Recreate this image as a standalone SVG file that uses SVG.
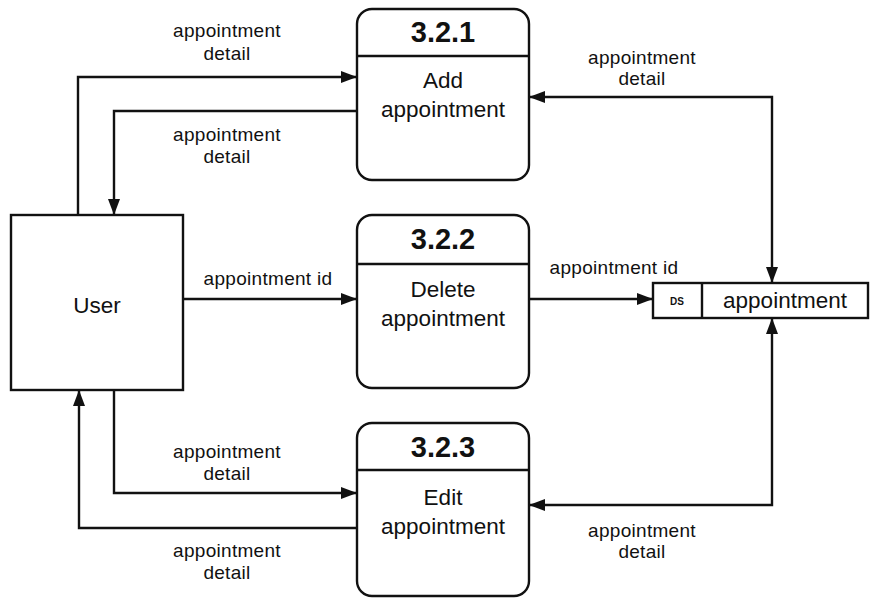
<svg xmlns="http://www.w3.org/2000/svg" width="871" height="599" viewBox="0 0 871 599">
<style>
.box{fill:#fff;stroke:#111;stroke-width:2.4}
.ln{fill:none;stroke:#111;stroke-width:2.4}
.lbl{font-family:"Liberation Sans",Arial,sans-serif;font-size:19px;fill:#111;text-anchor:middle;letter-spacing:0.3px}
.num{font-family:"Liberation Sans",Arial,sans-serif;font-size:29px;font-weight:bold;fill:#111;text-anchor:middle}
.name{font-family:"Liberation Sans",Arial,sans-serif;font-size:22.5px;fill:#111;text-anchor:middle}
.ds{font-family:"Liberation Sans",Arial,sans-serif;font-size:10px;font-weight:bold;fill:#111;text-anchor:middle}
</style>
<defs>
<marker id="ah" viewBox="0 0 16 12" refX="16" refY="6" markerWidth="16" markerHeight="12" markerUnits="userSpaceOnUse" orient="auto-start-reverse">
<path d="M0,0 L16,6 L0,12 Z" fill="#111"/>
</marker>
</defs>
<rect width="871" height="599" fill="#fff"/>
<g id="connectors">
<path class="ln" d="M78,215 V77 H357" marker-end="url(#ah)"/>
<path class="ln" d="M357,111 H114 V215" marker-end="url(#ah)"/>
<path class="ln" d="M772,283 V97 H529" marker-start="url(#ah)" marker-end="url(#ah)"/>
<path class="ln" d="M183,299 H357" marker-end="url(#ah)"/>
<path class="ln" d="M529,299 H653" marker-end="url(#ah)"/>
<path class="ln" d="M772,318 V505 H529" marker-start="url(#ah)" marker-end="url(#ah)"/>
<path class="ln" d="M114,390 V493 H357" marker-end="url(#ah)"/>
<path class="ln" d="M357,528 H79 V390" marker-end="url(#ah)"/>
<text class="lbl" x="227" y="37">appointment</text>
<text class="lbl" x="227" y="60">detail</text>
<text class="lbl" x="227" y="141">appointment</text>
<text class="lbl" x="227" y="163">detail</text>
<text class="lbl" x="642" y="64">appointment</text>
<text class="lbl" x="642" y="85">detail</text>
<text class="lbl" x="268" y="285">appointment id</text>
<text class="lbl" x="614" y="274">appointment id</text>
<text class="lbl" x="227" y="458">appointment</text>
<text class="lbl" x="227" y="480">detail</text>
<text class="lbl" x="227" y="557">appointment</text>
<text class="lbl" x="227" y="579">detail</text>
<text class="lbl" x="642" y="537">appointment</text>
<text class="lbl" x="642" y="558">detail</text>
</g>
<g id="user">
<rect class="box" x="11" y="215" width="172" height="175"/>
<text class="name" x="97" y="313">User</text>
</g>
<g id="p321">
<rect class="box" x="357" y="9" width="172" height="171" rx="15"/>
<line class="ln" x1="357" y1="56" x2="529" y2="56"/>
<text class="num" x="443" y="42">3.2.1</text>
<text class="name" x="443" y="88">Add</text>
<text class="name" x="443" y="117">appointment</text>
</g>
<g id="p322">
<rect class="box" x="357" y="215" width="172" height="173" rx="15"/>
<line class="ln" x1="357" y1="264" x2="529" y2="264"/>
<text class="num" x="443" y="249">3.2.2</text>
<text class="name" x="443" y="297">Delete</text>
<text class="name" x="443" y="326">appointment</text>
</g>
<g id="p323">
<rect class="box" x="357" y="423" width="172" height="173" rx="15"/>
<line class="ln" x1="357" y1="470" x2="529" y2="470"/>
<text class="num" x="443" y="457">3.2.3</text>
<text class="name" x="443" y="505">Edit</text>
<text class="name" x="443" y="534">appointment</text>
</g>
<g id="datastore">
<rect class="box" x="653" y="283" width="215" height="35"/>
<line class="ln" x1="702" y1="283" x2="702" y2="318"/>
<text class="ds" x="677" y="305">DS</text>
<text class="name" x="785" y="308">appointment</text>
</g>
</svg>
